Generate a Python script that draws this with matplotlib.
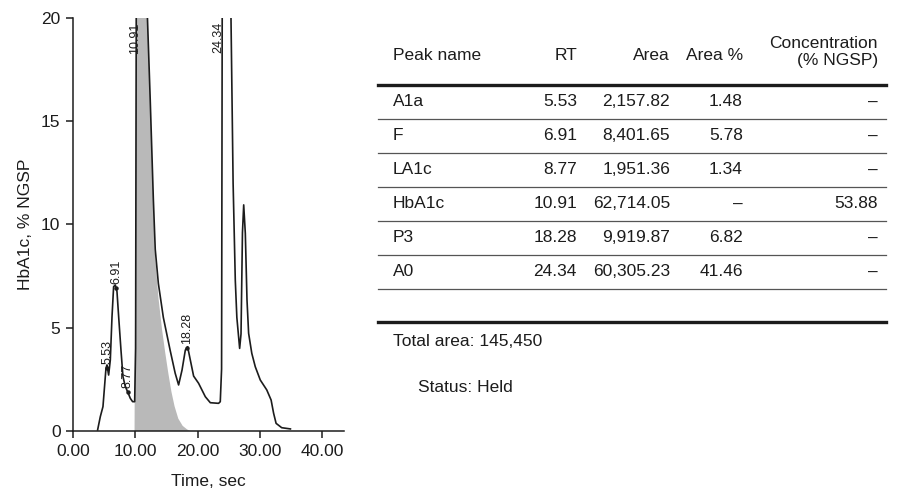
"""Chromatogram of an HbA1c run with its peak table."""

import matplotlib

matplotlib.use("Agg")
import matplotlib.pyplot as plt
from matplotlib.lines import Line2D

plt.rcParams["font.family"] = ["Liberation Sans", "DejaVu Sans"]

# trace (time in sec, HbA1c % NGSP); the two big peaks
# run off the top of the scale
TRACE_TIME = [
    3.95, 4.38, 4.81, 5.02, 5.29, 5.45, 5.72, 5.99, 6.26, 6.52, 6.79, 7.06,
    7.33, 7.70, 8.02, 8.40, 8.77, 9.20, 9.57, 9.90, 10.05, 10.15, 10.91,
    11.95, 12.40, 12.90, 13.20, 13.70, 14.50, 15.60, 16.40, 16.95, 17.50,
    18.03, 18.40, 18.83, 19.36, 20.16, 21.24, 22.04, 23.37, 23.64, 23.85,
    23.95, 24.34, 25.36, 25.70, 26.05, 26.30, 26.75, 26.97, 27.20, 27.40,
    27.66, 27.93, 28.19, 28.70, 29.26, 30.06, 31.10, 31.80, 32.20, 32.60,
    33.50, 34.90,
]
TRACE_VALUE = [
    0.05, 0.69, 1.18, 1.99, 3.03, 3.20, 2.71, 3.44, 5.53, 6.99, 7.07, 6.75,
    5.53, 3.92, 2.63, 2.15, 1.90, 1.58, 1.42, 1.42, 4.0, 20.0, 48.0,
    20.0, 16.0, 11.2, 8.8, 7.15, 5.5, 3.9, 2.8, 2.23, 2.95,
    3.92, 4.08, 3.44, 2.66, 2.31, 1.66, 1.37, 1.34, 1.42, 3.0,
    20.0, 48.0, 20.0, 12.0, 7.3, 5.5, 4.0, 4.7, 9.6, 10.95,
    9.57, 6.34, 4.73, 3.76, 3.11, 2.47, 1.99, 1.50, 0.86, 0.37,
    0.16, 0.10,
]

# shaded HbA1c peak
SHADE_TIME = [
    9.88, 9.90, 10.15, 10.91, 11.95, 12.40, 12.90, 13.10, 13.70, 14.30,
    14.80, 15.30, 15.80, 16.30, 16.90, 17.60, 18.30, 18.80,
]
SHADE_VALUE = [
    0.0, 1.42, 20.0, 48.0, 20.0, 16.0, 11.2, 8.8, 6.5, 4.9,
    3.8, 2.8, 1.9, 1.2, 0.6, 0.25, 0.08, 0.0,
]

PEAK_NAMES = ["A1a", "F", "LA1c", "HbA1c", "P3", "A0"]
PEAK_RT = [5.53, 6.91, 8.77, 10.91, 18.28, 24.34]
PEAK_AREA = [2157.82, 8401.65, 1951.36, 62714.05, 9919.87, 60305.23]
PEAK_AREA_PCT = [1.48, 5.78, 1.34, None, 6.82, 41.46]
PEAK_CONCENTRATION = [None, None, None, 53.88, None, None]
OFF_SCALE_PEAKS = [10.91, 24.34]
TOTAL_AREA = 145450
STATUS = "Held"

X_TICKS = [0, 10, 20, 30, 40]
Y_TICKS = [0, 5, 10, 15, 20]

WIDTH, HEIGHT, DPI = 902, 492, 100
INK = "#1c1c1c"
SHADE = "#b9b9b9"
FONT_SIZE = 12.5


def main():
    figure = plt.figure(figsize=(WIDTH / DPI, HEIGHT / DPI), dpi=DPI)
    axes = _make_axes(figure)
    _graph_trace(axes)
    _label_peaks(axes)
    _draw_table(figure)
    figure.savefig("out.png", dpi=DPI)


# -----------------------------------------------------------------------------
#                                                       implementation details
# -----------------------------------------------------------------------------
def _make_axes(figure):
    left, right, top, bottom = 73, 344, 18, 431
    axes = figure.add_axes([
        left / WIDTH,
        1 - bottom / HEIGHT,
        (right - left) / WIDTH,
        (bottom - top) / HEIGHT,
    ])
    axes.set_xlim(0, 43.5)
    axes.set_ylim(0, 20)
    axes.set_xticks(X_TICKS)
    axes.set_xticklabels([f"{t:.2f}" for t in X_TICKS])
    axes.set_yticks(Y_TICKS)
    for side in ("top", "right"):
        axes.spines[side].set_visible(False)
    for side in ("left", "bottom"):
        axes.spines[side].set_linewidth(1.1)
        axes.spines[side].set_color(INK)
    axes.tick_params(
        length=5, width=1.1, color=INK, labelsize=FONT_SIZE,
        labelcolor=INK, pad=4,
    )
    axes.set_xlabel("Time, sec", fontsize=FONT_SIZE, color=INK, labelpad=11)
    axes.set_ylabel("HbA1c, % NGSP", fontsize=FONT_SIZE, color=INK,
                    labelpad=6)
    return axes


def _graph_trace(axes):
    axes.fill_between(SHADE_TIME, SHADE_VALUE, 0, color=SHADE, linewidth=0)
    axes.plot(TRACE_TIME, TRACE_VALUE, color=INK, linewidth=1.2)


def _curve_at(time):
    for i in range(len(TRACE_TIME) - 1):
        t0, t1 = TRACE_TIME[i], TRACE_TIME[i + 1]
        if t0 <= time <= t1:
            v0, v1 = TRACE_VALUE[i], TRACE_VALUE[i + 1]
            return v0 + (v1 - v0) * (time - t0) / (t1 - t0)
    return 0.0


def _label_peaks(axes):
    for rt in PEAK_RT:
        if rt in OFF_SCALE_PEAKS:
            axes.text(rt, 19.8, f"{rt:.2f}", rotation=90, ha="right",
                      va="top", fontsize=9, color=INK)
            continue
        value = min(_curve_at(rt), 20)
        axes.plot([rt], [value], "o", color=INK, markersize=2.2)
        axes.annotate(
            f"{rt:.2f}", (rt, value), xytext=(0, 3),
            textcoords="offset points", rotation=90, ha="center",
            va="bottom", fontsize=9, color=INK,
        )


def _draw_table(figure):
    # pixel space overlay for the peak table
    table = figure.add_axes([0, 0, 1, 1])
    table.set_xlim(0, WIDTH)
    table.set_ylim(HEIGHT, 0)
    table.axis("off")

    line_left, line_right = 378, 886
    name_x = 393
    column_right = [577, 670, 743, 878]
    header_y, first_row, row_step = 55, 102, 34

    text_style = dict(fontsize=FONT_SIZE, color=INK, va="center")
    table.text(name_x, header_y, "Peak name", ha="left", **text_style)
    for x, label in zip(column_right[:3], ["RT", "Area", "Area %"]):
        table.text(x, header_y, label, ha="right", **text_style)
    table.text(column_right[3], header_y - 12, "Concentration", ha="right",
               **text_style)
    table.text(column_right[3], header_y + 6, "(% NGSP)", ha="right",
               **text_style)

    table.add_line(Line2D([line_left, line_right], [85, 85], color=INK,
                          linewidth=2.4))

    for i, name in enumerate(PEAK_NAMES):
        y = first_row + i * row_step
        pct = PEAK_AREA_PCT[i]
        conc = PEAK_CONCENTRATION[i]
        cells = [
            f"{PEAK_RT[i]:.2f}",
            f"{PEAK_AREA[i]:,.2f}",
            "–" if pct is None else f"{pct:.2f}",
            "–" if conc is None else f"{conc:.2f}",
        ]
        table.text(name_x, y, name, ha="left", **text_style)
        for x, cell in zip(column_right, cells):
            table.text(x, y, cell, ha="right", **text_style)
        rule_y = y + row_step / 2
        table.add_line(Line2D([line_left, line_right], [rule_y, rule_y],
                              color="#555555", linewidth=0.9))

    bottom_rule = first_row + len(PEAK_NAMES) * row_step + 16
    table.add_line(Line2D([line_left, line_right],
                          [bottom_rule, bottom_rule], color=INK,
                          linewidth=2.4))
    table.text(name_x, bottom_rule + 19, f"Total area: {TOTAL_AREA:,}",
               ha="left", **text_style)
    table.text(name_x + 25, bottom_rule + 66, f"Status: {STATUS}",
               ha="left", **text_style)


if __name__ == "__main__":
    main()
